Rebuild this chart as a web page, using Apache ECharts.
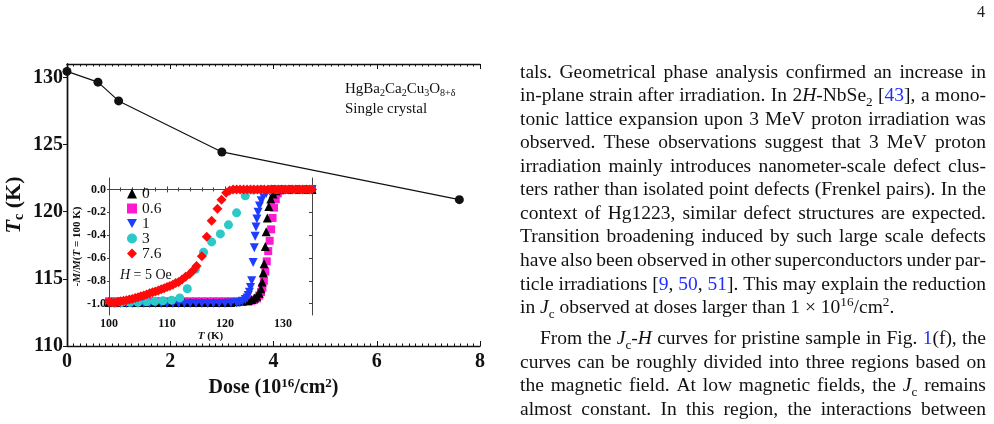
<!DOCTYPE html>
<html>
<head>
<meta charset="utf-8">
<script src="https://cdn.jsdelivr.net/npm/echarts@6/dist/echarts.min.js"></script>
<style>
  body { margin: 0; background: #fff; }
  #page { position: relative; width: 994px; height: 424px; overflow: hidden; }
  #chart { position: absolute; left: 0; top: 0; width: 994px; height: 424px; }
  .ln {
    position: absolute;
    height: 24px;
    line-height: 24px;
    font-family: "Liberation Serif", serif;
    font-size: 19.5px;
    color: #111;
    white-space: nowrap;
  }
  .just { display: flex; justify-content: space-between; }
  .ln a { color: #1f2fff; text-decoration: none; }
  .ln sub, .ln sup { font-size: 0.68em; line-height: 0; }
  #pnum { position: absolute; left: 977px; top: 3px; font-family: "Liberation Serif", serif; font-size: 16px; color: #222; }
</style>
</head>
<body>
<div id="page">
  <div id="chart"></div>
  <div id="pnum">4</div>
</div>
<script>
// main panel: Tc vs dose
const doses = [0, 0.6, 1, 3, 7.6];
const tcValues = [130.45, 129.65, 128.25, 124.45, 120.9];
const mainYTicks = [110, 115, 120, 125, 130];

// inset: normalised magnetisation vs T for each dose
const insetYTicks = [0, -0.2, -0.4, -0.6, -0.8, -1.0];
const legendNames = ["0", "0.6", "1", "3", "7.6"];

const curveDose0 = [
  [100, -0.99], [101, -0.99], [102, -0.99], [103, -0.99], [104, -0.99], [105, -0.99],
  [106, -0.99], [107, -0.99], [108, -0.99], [109, -0.99], [110, -0.99], [111, -0.99],
  [112, -0.99], [113, -0.99], [114, -0.99], [115, -0.99], [116, -0.99], [117, -0.99],
  [118, -0.99], [119, -0.99], [120, -0.99], [121, -0.99], [122, -0.985], [123, -0.98],
  [124, -0.975], [124.6, -0.965], [125.1, -0.95], [125.5, -0.935], [125.9, -0.91],
  [126.2, -0.87], [126.4, -0.81], [126.6, -0.73], [126.75, -0.65], [126.95, -0.5],
  [127.1, -0.37], [127.3, -0.25], [127.55, -0.15], [127.9, -0.085], [128.3, -0.04],
  [128.8, -0.012], [129.4, 0], [130, 0], [130.5, 0], [131, 0], [131.5, 0], [132, 0],
  [132.5, 0], [133, 0], [133.5, 0], [134, 0], [134.5, 0], [135, 0]
];
const curveDose06 = [
  [100, -0.98], [101, -0.98], [102, -0.98], [103, -0.98], [104, -0.98], [105, -0.98],
  [106, -0.98], [107, -0.98], [108, -0.98], [109, -0.98], [110, -0.98], [111, -0.98],
  [112, -0.98], [113, -0.98], [114, -0.98], [115, -0.98], [116, -0.98], [117, -0.98],
  [118, -0.98], [119, -0.98], [120, -0.98], [121, -0.98], [122, -0.98], [123, -0.98],
  [124, -0.98], [124.5, -0.975], [125, -0.97], [125.5, -0.955], [125.9, -0.93],
  [126.2, -0.9], [126.45, -0.86], [126.7, -0.8], [126.95, -0.72], [127.2, -0.63],
  [127.45, -0.54], [127.7, -0.45], [127.95, -0.35], [128.2, -0.25], [128.45, -0.16],
  [128.75, -0.085], [129.1, -0.035], [129.5, -0.01], [130, 0], [130.5, 0], [131, 0],
  [131.5, 0], [132, 0], [132.5, 0], [133, 0], [133.5, 0], [134, 0], [134.5, 0], [135, 0]
];
const curveDose1 = [
  [100, -1.0], [101, -1.0], [102, -1.0], [103, -1.0], [104, -1.0], [105, -1.0],
  [106, -1.0], [107, -1.0], [108, -1.0], [109, -1.0], [110, -1.0], [111, -1.0],
  [112, -1.0], [113, -1.0], [114, -1.0], [115, -1.0], [116, -1.0], [117, -1.0],
  [118, -1.0], [119, -1.0], [120, -1.0], [121, -0.995], [122, -0.995], [122.5, -0.99],
  [123, -0.98], [123.5, -0.965], [123.8, -0.95], [124.0, -0.93], [124.2, -0.9],
  [124.4, -0.86], [124.6, -0.8], [124.85, -0.64], [125.05, -0.51], [125.2, -0.41],
  [125.35, -0.33], [125.5, -0.26], [125.7, -0.2], [125.95, -0.145], [126.25, -0.1],
  [126.6, -0.065], [127.1, -0.035], [127.7, -0.015], [128.3, 0], [129, 0], [129.5, 0],
  [130, 0], [130.5, 0], [131, 0], [131.5, 0], [132, 0], [132.5, 0], [133, 0],
  [133.5, 0], [134, 0], [134.5, 0], [135, 0]
];
const curveDose3 = [
  [100.8, -0.99], [102.2, -0.99], [103.6, -0.99], [105.0, -0.99], [106.5, -0.985],
  [107.9, -0.98], [109.3, -0.975], [110.8, -0.97], [112.2, -0.95], [113.5, -0.87],
  [114.9, -0.7], [116.3, -0.55], [117.7, -0.46], [119.2, -0.39], [120.6, -0.31],
  [122.0, -0.205], [123.5, -0.055], [124.9, -0.005], [126.3, 0], [127.7, 0],
  [129.1, 0], [130.5, 0], [131.9, 0], [133.3, 0], [134.7, 0]
];
const curveDose76 = [
  [100, -0.985], [100.4, -0.99], [100.8, -0.99], [101.2, -0.99], [101.6, -0.985],
  [102, -0.98], [102.5, -0.975], [103, -0.97], [103.5, -0.965], [104, -0.96],
  [104.5, -0.95], [105, -0.945], [105.5, -0.935], [106, -0.93], [106.5, -0.92],
  [107, -0.91], [107.5, -0.9], [108, -0.895], [108.5, -0.885], [109, -0.875],
  [109.5, -0.865], [110, -0.855], [110.5, -0.845], [111, -0.835], [111.5, -0.82],
  [112, -0.81], [112.6, -0.79], [113.2, -0.765], [113.9, -0.74], [114.5, -0.71],
  [115.1, -0.67], [116.0, -0.585], [116.85, -0.415], [117.7, -0.275], [118.7, -0.17],
  [119.4, -0.09], [120.2, -0.03], [120.8, -0.01], [121.4, 0], [122, 0], [122.6, 0],
  [123.2, 0], [123.8, 0], [124.4, 0], [125, 0], [125.6, 0], [126.2, 0], [126.8, 0],
  [127.4, 0], [128, 0], [128.6, 0], [129.2, 0], [129.8, 0], [130.4, 0], [131, 0],
  [131.6, 0], [132.2, 0], [132.8, 0], [133.4, 0], [134, 0], [134.6, 0], [135, 0]
];

// right-hand column of the page
const textLines = [
  "tals. Geometrical phase analysis confirmed an increase in",
  "in-plane strain after irradiation. In 2<i>H</i>-NbSe<sub>2</sub> [<a>43</a>], a mono-",
  "tonic lattice expansion upon 3 MeV proton irradiation was",
  "observed. These observations suggest that 3 MeV proton",
  "irradiation mainly introduces nanometer-scale defect clus-",
  "ters rather than isolated point defects (Frenkel pairs). In the",
  "context of Hg1223, similar defect structures are expected.",
  "Transition broadening induced by such large scale defects",
  "have also been observed in other superconductors under par-",
  "ticle irradiations [<a>9</a>, <a>50</a>, <a>51</a>]. This may explain the reduction",
  "in <i>J</i><sub>c</sub> observed at doses larger than 1 × 10<sup>16</sup>/cm<sup>2</sup>.",
  "From the <i>J</i><sub>c</sub>-<i>H</i> curves for pristine sample in Fig. <a>1</a>(f), the",
  "curves can be roughly divided into three regions based on",
  "the magnetic field. At low magnetic fields, the <i>J</i><sub>c</sub> remains",
  "almost constant. In this region, the interactions between"
];
const lineCenters = [72.5, 96, 119.6, 143.2, 166.7, 190.3, 213.8, 237.4, 260.9, 284.5, 308, 339, 362.5, 386, 409.5];

const page = document.getElementById("page");
textLines.forEach((txt, i) => {
  const div = document.createElement("div");
  div.className = "ln";
  const indent = i === 11 ? 20 : 0;
  div.style.left = (520 + indent) + "px";
  div.style.top = (lineCenters[i] - 13) + "px";
  if (i === 10) {
    div.innerHTML = txt;
  } else {
    div.classList.add("just");
    div.style.width = (466 - indent) + "px";
    div.innerHTML = txt.split(" ").map(w => "<span>" + w + "</span>").join("");
  }
  page.appendChild(div);
});

const serif = "Liberation Serif";
const chart = echarts.init(document.getElementById("chart"));

const symbolSeries = (name, data, symbol, size, color, rotate) => ({
  name: name,
  type: "scatter",
  xAxisIndex: 2,
  yAxisIndex: 2,
  data: data,
  symbol: symbol,
  symbolSize: size,
  symbolRotate: rotate || 0,
  itemStyle: { color: color, opacity: 1 },
  z: 5
});

// legend icon for the downward triangle
const downTriangle = "path://M0,0 L10,0 L5,9 Z";

chart.setOption({
  animation: false,
  backgroundColor: "#fff",
  grid: [
    { left: 67, top: 64, width: 413, height: 282 },
    { left: 109, top: 178, width: 203, height: 137, backgroundColor: "#fff", show: true, borderWidth: 0 }
  ],
  legend: {
    data: legendNames.map(n => (n === "1" ? { name: n, icon: downTriangle } : n)),
    orient: "vertical",
    left: 127,
    top: 185.5,
    padding: 0,
    itemWidth: 10,
    itemHeight: 10,
    itemGap: -1,
    textStyle: { fontFamily: serif, fontSize: 15.5, color: "#111" },
    z: 10
  },
  xAxis: [
    {
      gridIndex: 0, type: "value", min: 0, max: 8, interval: 2, position: "bottom",
      name: "Dose (10{sup|16}/cm{sup|2})",
      nameLocation: "middle",
      nameGap: 25,
      nameTextStyle: {
        fontFamily: serif, fontSize: 20, fontWeight: "bold", color: "#111", lineHeight: 22,
        rich: { sup: { fontFamily: serif, fontSize: 13, fontWeight: "bold", color: "#111", verticalAlign: "top", lineHeight: 4 } }
      },
      axisLine: { lineStyle: { color: "#111", width: 1.4 } },
      axisTick: { inside: true, length: 5, lineStyle: { color: "#111" } },
      minorTick: { show: true, splitNumber: 16, length: 2.5, lineStyle: { color: "#111" } },
      splitLine: { show: false },
      axisLabel: { fontFamily: serif, fontSize: 20, fontWeight: "bold", color: "#111", margin: 6 }
    },
    {
      gridIndex: 0, type: "value", min: 0, max: 8, interval: 2, position: "top",
      axisLine: { lineStyle: { color: "#111", width: 1.4 } },
      axisTick: { inside: true, length: 5, lineStyle: { color: "#111" } },
      minorTick: { show: true, splitNumber: 16, length: 2.5, lineStyle: { color: "#111" } },
      splitLine: { show: false },
      axisLabel: { show: false }
    },
    {
      gridIndex: 1, type: "value", min: 100, max: 135, interval: 10, position: "bottom",
      name: "{i|T} (K)",
      nameLocation: "middle",
      nameGap: 15,
      nameTextStyle: {
        fontFamily: serif, fontSize: 11, fontWeight: "bold", color: "#111",
        rich: { i: { fontFamily: serif, fontSize: 11, fontWeight: "bold", fontStyle: "italic", color: "#111" } }
      },
      axisLine: { lineStyle: { color: "#444", width: 1 } },
      axisTick: { inside: true, length: 3, lineStyle: { color: "#444" } },
      minorTick: { show: true, splitNumber: 5, length: 2, lineStyle: { color: "#444" } },
      splitLine: { show: false },
      axisLabel: { fontFamily: serif, fontSize: 12, fontWeight: "bold", color: "#111", margin: 3, showMaxLabel: false }
    },
    {
      gridIndex: 1, type: "value", min: 100, max: 135, interval: 10, position: "top",
      axisLine: { lineStyle: { color: "#444", width: 1 } },
      axisTick: { inside: true, length: 3, lineStyle: { color: "#444" } },
      minorTick: { show: true, splitNumber: 5, length: 2, lineStyle: { color: "#444" } },
      splitLine: { show: false },
      axisLabel: { show: false }
    }
  ],
  yAxis: [
    {
      gridIndex: 0, type: "value", min: 110, max: 131, position: "left",
      name: "{i|T}{sub|c} (K)",
      nameLocation: "middle",
      nameGap: 41,
      nameTextStyle: {
        fontFamily: serif, fontSize: 22, fontWeight: "bold", color: "#111", lineHeight: 24,
        rich: {
          i: { fontFamily: serif, fontSize: 22, fontWeight: "bold", fontStyle: "italic", color: "#111", lineHeight: 24 },
          sub: { fontFamily: serif, fontSize: 14, fontWeight: "bold", color: "#111", verticalAlign: "bottom", lineHeight: 10 }
        }
      },
      axisLine: { lineStyle: { color: "#111", width: 1.4 } },
      axisTick: { inside: false, length: 3, customValues: mainYTicks, lineStyle: { color: "#111" } },
      splitLine: { show: false },
      axisLabel: { fontFamily: serif, fontSize: 20, fontWeight: "bold", color: "#111", margin: 4, customValues: mainYTicks }
    },
    {
      gridIndex: 0, type: "value", min: 110, max: 131, position: "right",
      axisLine: { lineStyle: { color: "#111", width: 1.4 } },
      axisTick: { inside: true, length: 4, customValues: mainYTicks, lineStyle: { color: "#111" } },
      splitLine: { show: false },
      axisLabel: { show: false }
    },
    {
      gridIndex: 1, type: "value", min: -1.1, max: 0.1, position: "left",
      name: "-{i|M}/{i|M}({i|T} = 100 K)",
      nameLocation: "middle",
      nameGap: 22,
      nameTextStyle: {
        fontFamily: serif, fontSize: 11, fontWeight: "bold", color: "#111",
        rich: { i: { fontFamily: serif, fontSize: 11, fontWeight: "bold", fontStyle: "italic", color: "#111" } }
      },
      axisLine: { lineStyle: { color: "#444", width: 1 } },
      axisTick: { inside: false, length: 2, customValues: insetYTicks, lineStyle: { color: "#444" } },
      splitLine: { show: false },
      axisLabel: {
        fontFamily: serif, fontSize: 12, fontWeight: "bold", color: "#111", margin: 3,
        customValues: insetYTicks,
        formatter: v => v.toFixed(1)
      }
    },
    {
      gridIndex: 1, type: "value", min: -1.1, max: 0.1, position: "right",
      axisLine: { lineStyle: { color: "#444", width: 1 } },
      axisTick: { inside: true, length: 3, customValues: insetYTicks, lineStyle: { color: "#444" } },
      splitLine: { show: false },
      axisLabel: { show: false }
    }
  ],
  graphic: [
    {
      type: "text", left: 345, top: 80, z: 20,
      style: {
        text: "HgBa{sub|2}Ca{sub|2}Cu{sub|3}O{sub|8+δ}",
        fontFamily: serif, fontSize: 15, fill: "#111", lineHeight: 18,
        rich: { sub: { fontFamily: serif, fontSize: 10, fill: "#111", verticalAlign: "bottom", lineHeight: 7 } }
      }
    },
    {
      type: "text", left: 345, top: 100, z: 20,
      style: { text: "Single crystal", fontFamily: serif, fontSize: 15, fill: "#111", lineHeight: 18 }
    },
    {
      type: "text", left: 120, top: 267, z: 20,
      style: {
        text: "{i|H} = 5 Oe",
        fontFamily: serif, fontSize: 14, fill: "#111", lineHeight: 16,
        rich: { i: { fontFamily: serif, fontSize: 14, fontStyle: "italic", fill: "#111" } }
      }
    }
  ],
  series: [
    {
      name: "Tc",
      type: "line",
      xAxisIndex: 0,
      yAxisIndex: 0,
      data: doses.map((d, i) => [d, tcValues[i]]),
      symbol: "circle",
      symbolSize: 9,
      lineStyle: { color: "#111", width: 1.2 },
      itemStyle: { color: "#111" },
      z: 3
    },
    symbolSeries("0.6", curveDose06, "rect", 8, "#ff1ad1"),
    symbolSeries("0", curveDose0, "triangle", 9, "#000000"),
    symbolSeries("1", curveDose1, "triangle", 9, "#1f3dff", 180),
    symbolSeries("3", curveDose3, "circle", 9, "#2cc9c9"),
    symbolSeries("7.6", curveDose76, "diamond", 10, "#ff0a0a")
  ]
});
</script>
</body>
</html>
